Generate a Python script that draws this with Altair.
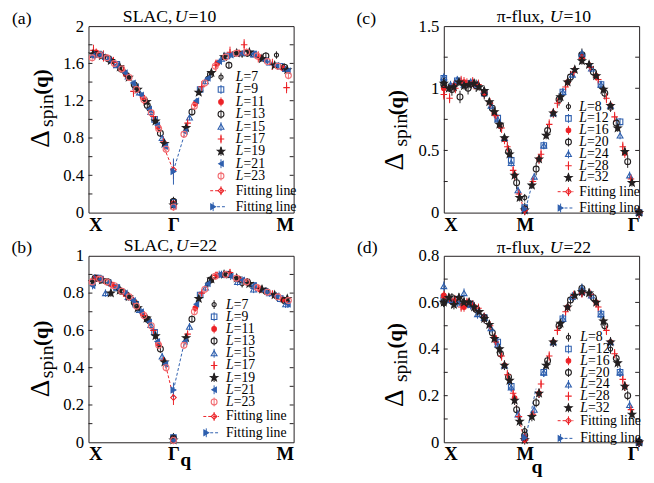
import math
import pandas as pd
import altair as alt

SERIF = "Liberation Serif"
BLACK = "#231f20"
BLUE = "#2e5fae"
RED = "#ec2227"
PINK = "#f26d72"

SQ2 = math.sqrt(2.0)
XMAX = 1 + SQ2

# ---------------- data ----------------
SLAC_L = [7, 9, 11, 13, 15, 17, 19, 21, 23]
PI_L = [8, 12, 16, 20, 24, 28, 32]

# (a) SLAC U=10 : segment X-Gamma (listed from Gamma outward), Gamma point, segment Gamma-M
A_SEG1 = [
    [1.11, 1.50, 1.69],
    [1.00, 1.35, 1.59, 1.70],
    [0.92, 1.24, 1.47, 1.63, 1.72],
    [0.85, 1.15, 1.37, 1.54, 1.65, 1.70],
    [0.80, 1.08, 1.29, 1.46, 1.58, 1.67, 1.70],
    [0.76, 1.03, 1.22, 1.30, 1.52, 1.61, 1.68, 1.74],
    [0.74, 0.98, 1.19, 1.32, 1.45, 1.56, 1.63, 1.68, 1.70],
    [0.71, 0.94, 1.11, 1.26, 1.39, 1.50, 1.58, 1.64, 1.69, 1.68],
    [0.68, 0.90, 1.07, 1.21, 1.32, 1.45, 1.54, 1.60, 1.66, 1.69, 1.66],
]
A_GAMMA = [0.13, 0.11, 0.10, 0.12, 0.09, 0.08, 0.08, 0.07, 0.06]
A_SEG2 = [
    [1.44, 1.70, 1.69],
    [1.32, 1.68, 1.70, 1.57],
    [1.17, 1.60, 1.71, 1.66, 1.55],
    [1.08, 1.48, 1.58, 1.71, 1.68, 1.56],
    [1.02, 1.41, 1.65, 1.71, 1.70, 1.61, 1.54],
    [0.96, 1.35, 1.58, 1.72, 1.80, 1.67, 1.59, 1.34],
    [0.91, 1.29, 1.50, 1.67, 1.71, 1.72, 1.65, 1.58, 1.53],
    [0.87, 1.20, 1.44, 1.62, 1.69, 1.71, 1.70, 1.63, 1.58, 1.52],
    [0.84, 1.14, 1.39, 1.57, 1.67, 1.71, 1.72, 1.68, 1.62, 1.57, 1.47],
]
A_ERR = [0.04, 0.03, 0.04, 0.04, 0.03, 0.06, 0.03, 0.03, 0.04]

# (b) SLAC U=22
B_SEG1 = [
    [0.645, 0.80, 0.87],
    [0.59, 0.74, 0.83, 0.88],
    [0.53, 0.69, 0.79, 0.845, 0.88],
    [0.50, 0.66, 0.75, 0.81, 0.86, 0.88],
    [0.46, 0.63, 0.71, 0.78, 0.83, 0.80, 0.88],
    [0.44, 0.60, 0.68, 0.76, 0.80, 0.84, 0.87, 0.875],
    [0.43, 0.57, 0.665, 0.72, 0.78, 0.815, 0.80, 0.87, 0.86],
    [0.42, 0.54, 0.645, 0.70, 0.76, 0.80, 0.83, 0.855, 0.875, 0.84],
    [0.40, 0.52, 0.625, 0.68, 0.73, 0.78, 0.81, 0.84, 0.86, 0.875, 0.86],
]
B_GAMMA = [0.03, 0.025, 0.02, 0.02, 0.018, 0.015, 0.012, 0.01, 0.01]
B_SEG2 = [
    [0.85, 0.85, 0.78],
    [0.79, 0.90, 0.84, 0.77],
    [0.72, 0.895, 0.875, 0.82, 0.765],
    [0.66, 0.87, 0.90, 0.86, 0.81, 0.76],
    [0.62, 0.83, 0.90, 0.86, 0.82, 0.80, 0.74],
    [0.58, 0.80, 0.895, 0.91, 0.865, 0.825, 0.795, 0.755],
    [0.56, 0.77, 0.875, 0.90, 0.88, 0.85, 0.82, 0.79, 0.77],
    [0.54, 0.74, 0.85, 0.90, 0.89, 0.87, 0.84, 0.81, 0.785, 0.74],
    [0.52, 0.70, 0.82, 0.89, 0.90, 0.88, 0.86, 0.83, 0.805, 0.78, 0.76],
]
B_ERR = [0.02, 0.02, 0.02, 0.02, 0.02, 0.02, 0.02, 0.02, 0.02]

# (c) pi-flux U=10 : segment X-M (from X), segment M-Gamma (from M)
C_SEG1 = [
    [1.06, 1.03, 0.96, 0.60, 0.12],
    [1.08, 1.06, 1.04, 0.96, 0.76, 0.42, 0.04],
    [1.00, 1.02, 1.05, 1.03, 0.96, 0.80, 0.59, 0.30, 0.02],
    [1.03, 0.99, 0.93, 1.00, 1.02, 0.96, 0.84, 0.70, 0.49, 0.24, 0.03],
    [1.09, 1.03, 1.07, 1.03, 1.05, 1.03, 0.98, 0.86, 0.75, 0.60, 0.40, 0.18, 0.02],
    [0.95, 0.92, 1.00, 1.06, 1.04, 1.05, 1.03, 0.97, 0.88, 0.78, 0.68, 0.53, 0.34, 0.15, 0.02],
    [1.04, 1.00, 1.01, 1.05, 1.02, 1.03, 1.04, 1.01, 0.98, 0.89, 0.81, 0.71, 0.60, 0.47, 0.30, 0.12, 0.02],
]
C_SEG2 = [
    [0.80, 1.26, 0.84, 0.0],
    [0.54, 0.97, 1.26, 1.03, 0.73, 0.0],
    [0.43, 0.80, 1.05, 1.25, 1.10, 0.86, 0.48, 0.0],
    [0.35, 0.66, 0.91, 1.09, 1.27, 1.13, 0.96, 0.72, 0.41, 0.0],
    [0.29, 0.54, 0.80, 0.97, 1.11, 1.28, 1.16, 1.03, 0.86, 0.62, 0.30, 0.0],
    [0.25, 0.47, 0.71, 0.88, 1.01, 1.13, 1.24, 1.17, 1.07, 0.92, 0.77, 0.53, 0.27, 0.0],
    [0.22, 0.43, 0.62, 0.80, 0.93, 1.05, 1.15, 1.22, 1.19, 1.10, 0.99, 0.86, 0.68, 0.49, 0.24, 0.0],
]
C_ERR = [0.03, 0.03, 0.04, 0.05, 0.03, 0.04, 0.03]

# (d) pi-flux U=22
D_SEG1 = [
    [0.61, 0.60, 0.535, 0.33, 0.05],
    [0.62, 0.61, 0.59, 0.535, 0.43, 0.24, 0.02],
    [0.63, 0.605, 0.58, 0.58, 0.535, 0.45, 0.33, 0.19, 0.02],
    [0.60, 0.62, 0.605, 0.595, 0.57, 0.535, 0.47, 0.38, 0.28, 0.14, 0.03],
    [0.67, 0.61, 0.60, 0.64, 0.59, 0.55, 0.535, 0.49, 0.42, 0.33, 0.235, 0.12, 0.02],
    [0.62, 0.615, 0.61, 0.58, 0.60, 0.59, 0.575, 0.535, 0.50, 0.43, 0.37, 0.29, 0.21, 0.11, 0.02],
    [0.60, 0.62, 0.59, 0.62, 0.60, 0.60, 0.58, 0.56, 0.53, 0.505, 0.445, 0.40, 0.33, 0.265, 0.18, 0.09, 0.01],
]
D_SEG2 = [
    [0.43, 0.645, 0.40, 0.0],
    [0.30, 0.53, 0.645, 0.55, 0.30, 0.0],
    [0.21, 0.43, 0.58, 0.645, 0.60, 0.43, 0.24, 0.0],
    [0.17, 0.35, 0.50, 0.61, 0.66, 0.62, 0.50, 0.36, 0.20, 0.0],
    [0.14, 0.30, 0.43, 0.53, 0.625, 0.66, 0.63, 0.55, 0.43, 0.30, 0.16, 0.0],
    [0.12, 0.25, 0.37, 0.48, 0.56, 0.63, 0.64, 0.635, 0.58, 0.48, 0.38, 0.27, 0.14, 0.0],
    [0.11, 0.21, 0.33, 0.43, 0.51, 0.58, 0.63, 0.645, 0.64, 0.60, 0.52, 0.43, 0.34, 0.24, 0.12, 0.0],
]
D_ERR = [0.02, 0.02, 0.02, 0.02, 0.02, 0.02, 0.02]

# fitting lines (red: left branch, blue: right branch) and fitted end points
A_FIT = {"red_s": [0.87, 1.0], "red_y": [0.74, 0.45], "blue_s": [1.0, 1.17], "blue_y": [0.45, 0.96],
         "mark_y": [0.46, 0.44], "mark_e": [0.10, 0.14]}
B_FIT = {"red_s": [0.91, 1.0], "red_y": [0.41, 0.24], "blue_s": [1.0, 1.13], "blue_y": [0.28, 0.54],
         "mark_y": [0.24, 0.28], "mark_e": [0.04, 0.04]}
C_FIT = {"red_s": [0.91, 1.0], "red_y": [0.20, 0.0], "blue_s": [1.0, 1.12], "blue_y": [0.0, 0.30],
         "mark_y": [0.02, 0.03], "mark_e": [0.02, 0.02]}
D_FIT = {"red_s": [0.88, 1.0], "red_y": [0.18, 0.0], "blue_s": [1.0, 1.14], "blue_y": [0.0, 0.23],
         "mark_y": [0.01, 0.02], "mark_e": [0.01, 0.01]}

# axes
A_LABELS = [0, 0.4, 0.8, 1.2, 1.6, 2.0]
A_TICKS = [0.2, 0.4, 0.6, 0.8, 1.0, 1.2, 1.4, 1.6, 1.8]
B_LABELS = [0, 0.2, 0.4, 0.6, 0.8, 1.0]
B_TICKS = [0.1, 0.2, 0.3, 0.4, 0.5, 0.6, 0.7, 0.8, 0.9]
C_LABELS = [0, 0.5, 1.0, 1.5]
C_TICKS = [0.25, 0.5, 0.75, 1.0, 1.25]
D_LABELS = [0, 0.2, 0.4, 0.6, 0.8]
D_TICKS = [0.1, 0.2, 0.3, 0.4, 0.5, 0.6, 0.7]

# ---------------- styles ----------------
PLUS = "M-1,0L1,0M0,-1L0,1"
STAR = ("M0,-1L0.247,-0.34L0.951,-0.309L0.399,0.13L0.588,0.809L0,0.42"
        "L-0.588,0.809L-0.399,0.13L-0.951,-0.309L-0.247,-0.34Z")
STYLES = [
    ("circle", BLACK, "transparent", 18),
    ("square", BLUE, "transparent", 32),
    ("circle", RED, RED, 22),
    ("circle", BLACK, "transparent", 36),
    ("triangle-up", BLUE, "transparent", 36),
    (PLUS, RED, "transparent", 44),
    (STAR, BLACK, BLACK, 62),
    ("triangle-left", BLUE, BLUE, 28),
    ("circle", PINK, "transparent", 36),
]
FIT_STYLES = [("diamond", RED, "transparent", 32), ("triangle-right", BLUE, BLUE, 32)]


def row(s, y, e, sty):
    return dict(s=s, y=y, lo=y - e, hi=y + e, shape=sty[0], stroke=sty[1], fill=sty[2], size=sty[3])


def slac_points(seg1, gamma, seg2, err):
    rows = []
    for i, L in enumerate(SLAC_L):
        sty = STYLES[i]
        for n, v in enumerate(seg1[i], 1):
            rows.append(row(1 - 2 * n / L, v, err[i], sty))
        rows.append(row(1.0, gamma[i], err[i], sty))
        for n, v in enumerate(seg2[i], 1):
            rows.append(row(1 + SQ2 * 2 * n / L, v, err[i], sty))
    return pd.DataFrame(rows)


def pi_points(seg1, seg2, err):
    rows = []
    for i, L in enumerate(PI_L):
        sty = STYLES[i]
        for n, v in enumerate(seg1[i]):
            rows.append(row(2 * n / L, v, err[i], sty))
        for k, v in enumerate(seg2[i], 1):
            rows.append(row(1 + SQ2 * 2 * k / L, v, err[i], sty))
    return pd.DataFrame(rows)


def fit_frames(fit):
    lines = pd.DataFrame(
        [dict(s=s, y=y, grp="r", stroke=RED) for s, y in zip(fit["red_s"], fit["red_y"])]
        + [dict(s=s, y=y, grp="b", stroke=BLUE) for s, y in zip(fit["blue_s"], fit["blue_y"])]
    )
    marks = pd.DataFrame([row(1.0, y, e, FIT_STYLES[j]) for j, (y, e) in enumerate(zip(fit["mark_y"], fit["mark_e"]))])
    return lines, marks


def text_layers(items):
    """items: (px, py, text, size, angle, style, weight, align)"""
    groups = {}
    for it in items:
        groups.setdefault((it[5], it[6], it[7]), []).append(it)
    layers = []
    for (style, weight, align), its in groups.items():
        df = pd.DataFrame([dict(px=i[0], py=i[1], txt=i[2], fs=i[3], ang=i[4]) for i in its])
        layers.append(
            alt.Chart(df).mark_text(font=SERIF, fontStyle=style, fontWeight=weight, align=align,
                                    baseline="middle", color="black")
            .encode(x=alt.X("px:Q", scale=None, axis=None), y=alt.Y("py:Q", scale=None, axis=None),
                    text="txt:N", size=alt.Size("fs:Q", scale=None), angle=alt.Angle("ang:Q", scale=None))
        )
    return layers


def panel(pts, fit, W, H, ymax, labels, ticks, names, letter, title_parts, ytitle, q_pos, leg, Ls):
    xenc = alt.X("s:Q", scale=alt.Scale(domain=[0, XMAX], nice=False, zero=False),
                 axis=alt.Axis(values=[0, 1, XMAX],
                               labelExpr=f"datum.value < 0.5 ? '{names[0]}' : (datum.value < 1.5 ? '{names[1]}' : '{names[2]}')",
                               title=None, domain=False, ticks=False, grid=False, labelFont=SERIF,
                               labelFontSize=19, labelFontWeight="bold", labelColor="black", labelPadding=3))
    yscale = alt.Scale(domain=[0, ymax], nice=False, zero=False)
    yaxis = alt.Axis(values=labels, format="~g", title=None, domain=False, ticks=False, grid=False,
                     labelFont=SERIF, labelFontSize=17, labelColor="black", labelPadding=5)
    yenc = alt.Y("y:Q", scale=yscale, axis=yaxis)

    tick_df = pd.DataFrame({"y": ticks})
    lt = alt.Chart(tick_df).mark_rule(color=BLACK).encode(x=alt.value(0), x2=alt.value(4), y=yenc)
    rt = alt.Chart(tick_df).mark_rule(color=BLACK).encode(x=alt.value(W - 4), x2=alt.value(W), y=yenc)

    lines, marks = fit_frames(fit)
    fl = alt.Chart(lines).mark_line(strokeDash=[3, 2], strokeWidth=1).encode(
        x=xenc, y=yenc, detail="grp:N", stroke=alt.Stroke("stroke:N", scale=None))

    def bars(df):
        return alt.Chart(df).mark_rule(strokeWidth=1).encode(
            x=xenc, y=alt.Y("lo:Q", scale=yscale, axis=yaxis), y2="hi:Q",
            stroke=alt.Stroke("stroke:N", scale=None))

    def dots(df):
        return alt.Chart(df).mark_point(opacity=1, strokeWidth=1.1).encode(
            x=xenc, y=yenc, shape=alt.Shape("shape:N", scale=None),
            stroke=alt.Stroke("stroke:N", scale=None), fill=alt.Fill("fill:N", scale=None),
            size=alt.Size("size:Q", scale=None))

    data_layer = alt.layer(lt, rt, fl, bars(pts), dots(pts), bars(marks), dots(marks))

    # legend
    sx, tx, y0, dy, f1, f2 = leg
    leg_rows = []
    items = []
    for i, L in enumerate(Ls):
        py = y0 + dy * i
        sty = STYLES[i]
        leg_rows.append(dict(px=sx, py=py, y1=py - 4.5, y2=py + 4.5, shape=sty[0], stroke=sty[1], fill=sty[2], size=sty[3]))
        items.append((tx, py, "L", 14, 0, "italic", "normal", "left"))
        items.append((tx + 8, py, f"={L}", 14, 0, "normal", "normal", "left"))
    leg_rows.append(dict(px=sx, py=f1, y1=f1 - 4.5, y2=f1 + 4.5, shape=FIT_STYLES[0][0], stroke=RED,
                         fill=FIT_STYLES[0][2], size=FIT_STYLES[0][3]))
    leg_rows.append(dict(px=sx - 8, py=f2, y1=f2 - 4.5, y2=f2 + 4.5, shape=FIT_STYLES[1][0], stroke=BLUE,
                         fill=FIT_STYLES[1][2], size=FIT_STYLES[1][3]))
    items.append((tx, f1, "Fitting line", 14, 0, "normal", "normal", "left"))
    items.append((tx, f2, "Fitting line", 14, 0, "normal", "normal", "left"))
    leg_df = pd.DataFrame(leg_rows)
    dash_df = pd.DataFrame([dict(x1=sx - 11, x2=sx + 5, py=f1, stroke=RED), dict(x1=sx - 4, x2=sx + 5, py=f2, stroke=BLUE)])

    px = alt.X("px:Q", scale=None, axis=None)
    leg_bars = alt.Chart(leg_df).mark_rule(strokeWidth=1).encode(
        x=px, y=alt.Y("y1:Q", scale=None, axis=None), y2="y2:Q", stroke=alt.Stroke("stroke:N", scale=None))
    leg_dash = alt.Chart(dash_df).mark_rule(strokeWidth=1, strokeDash=[3, 2]).encode(
        x=alt.X("x1:Q", scale=None, axis=None), x2="x2:Q", y=alt.Y("py:Q", scale=None, axis=None),
        stroke=alt.Stroke("stroke:N", scale=None))
    leg_dots = alt.Chart(leg_df).mark_point(opacity=1, strokeWidth=1.1).encode(
        x=px, y=alt.Y("py:Q", scale=None, axis=None), shape=alt.Shape("shape:N", scale=None),
        stroke=alt.Stroke("stroke:N", scale=None), fill=alt.Fill("fill:N", scale=None),
        size=alt.Size("size:Q", scale=None))

    # annotations: panel letter, title, y-axis title, q
    items.append((letter[1], letter[2], letter[0], 18, 0, "normal", "normal", "center"))
    ty = title_parts[3]
    items.append((title_parts[0][1], ty, title_parts[0][0], 18, 0, "normal", "normal", "left"))
    items.append((title_parts[1], ty, "U", 18, 0, "italic", "normal", "left"))
    items.append((title_parts[2][1], ty, title_parts[2][0], 18, 0, "normal", "normal", "left"))
    (qx, qy), (sx2, sy2), (dx2, dy2) = ytitle
    items.append((qx, qy, "(q)", 21, 270, "normal", "bold", "center"))
    items.append((sx2, sy2, "spin", 20, 270, "normal", "normal", "center"))
    items.append((dx2, dy2, "\u0394", 28, 270, "normal", "normal", "center"))
    if q_pos is not None:
        items.append((q_pos[0], q_pos[1], "q", 20, 0, "normal", "bold", "center"))

    annot = alt.layer(leg_dash, leg_bars, leg_dots, *text_layers(items))
    return alt.layer(data_layer, annot).resolve_scale(x="independent", y="independent").properties(width=W, height=H)


pa = panel(slac_points(A_SEG1, A_GAMMA, A_SEG2, A_ERR), A_FIT, 209, 190, 2.0, A_LABELS, A_TICKS,
           ["X", "\u0393", "M"], ("(a)", -68, -7), (("SLAC,", 35), 88, ("=10", 102), -9),
           ((-47, 57), (-42, 86), (-48, 115)), None, (135, 150, 52, 12.6, 167.7, 184), SLAC_L)
pc = panel(pi_points(C_SEG1, C_SEG2, C_ERR), C_FIT, 199, 190, 1.5, C_LABELS, C_TICKS,
           ["X", "M", "\u0393"], ("(c)", -79, -7), (("\u03c0-flux,", 54), 108, ("=10", 122), -9),
           ((-48, 78), (-43, 106), (-50, 138)), None, (127, 138, 82, 12.05, 168.7, 185.3), PI_L)
pb = panel(slac_points(B_SEG1, B_GAMMA, B_SEG2, B_ERR), B_FIT, 209, 190, 1.0, B_LABELS, B_TICKS,
           ["X", "\u0393", "M"], ("(b)", -68, -8), (("SLAC,", 36), 89, ("=22", 103), -10),
           ((-47, 79), (-42, 108), (-48, 135)), (99, 208), (128, 140, 49.7, 12.4, 163.7, 180.3), SLAC_L)
pd_ = panel(pi_points(D_SEG1, D_SEG2, D_ERR), D_FIT, 199, 190, 0.8, D_LABELS, D_TICKS,
            ["X", "M", "\u0393"], ("(d)", -78, -8), (("\u03c0-flux,", 54), 108, ("=22", 122), -8),
            ((-49, 81.5), (-43, 112), (-50, 145)), (95, 215), (127, 139, 83, 12, 168, 186), PI_L)

chart = (
    alt.concat(pa, pc, pb, pd_, columns=2, spacing={"row": 44, "column": 153}, bounds="flush", align="each")
    .properties(padding={"left": 3, "top": -5, "right": 0, "bottom": 0})
    .configure_view(stroke=BLACK, strokeWidth=1)
)

chart.save("out.html", embed_options={"renderer": "svg", "actions": False})
